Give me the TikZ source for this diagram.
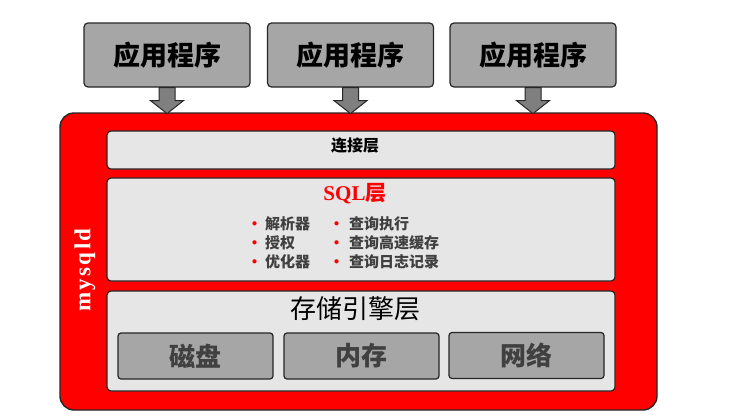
\documentclass[tikz,border=0pt]{standalone}
\usepackage{fontspec}
\setmainfont{Noto Sans CJK SC}
\newfontfamily\namefont[LetterSpace=10]{Liberation Serif}
\newfontfamily\latinserif{Liberation Serif}
\usepackage{xcolor}
\usepackage{tikz}
\usetikzlibrary{positioning}

\definecolor{appgray}{HTML}{A6A6A6}
\definecolor{layergray}{HTML}{E6E6E6}
\definecolor{arrgray}{HTML}{7F7F7F}
\definecolor{edge}{HTML}{262626}
\definecolor{txtgray}{HTML}{404040}
\definecolor{sysred}{HTML}{FF0000}

\begin{document}
\begin{tikzpicture}[
  x=1pt, y=-1pt,
  app/.style={draw=edge, fill=appgray, rounded corners=4pt, line width=1.2pt,
    minimum width=166pt, minimum height=64pt, inner sep=0pt,
    font=\fontsize{27}{30}\selectfont\bfseries},
  sysbox/.style={draw=edge, fill=sysred, rounded corners=14pt, line width=1.4pt,
    minimum width=597pt, minimum height=297pt},
  layer/.style={draw=edge, fill=layergray, rounded corners=4pt, line width=1.2pt,
    minimum width=508pt, inner sep=0pt},
  unit/.style={draw=edge, fill=appgray, rounded corners=3pt, line width=1.2pt,
    minimum width=155pt, minimum height=46pt, inner sep=0pt, text=txtgray,
    font=\fontsize{26}{28}\selectfont\bfseries},
  items/.style={anchor=west, align=left, inner sep=0pt, text=txtgray,
    font=\fontsize{15}{19}\selectfont\bfseries},
  arr/.style={draw=edge, fill=arrgray, line width=1pt, line join=miter}
]
\useasboundingbox (0,0) rectangle (750,418);

% applications on top
\node[app] (app1) at (167,55) {应用程序};
\node[app] (app2) at (350.5,55) {应用程序};
\node[app] (app3) at (533,55) {应用程序};

% mysqld server
\node[sysbox] (sys) at (358.5,261.5) {};
\node[rotate=90, text=white, font=\fontsize{23}{25}\selectfont\namefont\bfseries] (name) at (85,270) {mysqld};

\foreach \i in {1,2,3}
  \draw[arr] (app\i.south) ++(-8,0) -- ++(0,13) -- ++(-8.5,0) -- ++(16.5,13)
    -- ++(16.5,-13) -- ++(-8.5,0) -- ++(0,-13) -- cycle;

% layers
\node[layer, minimum height=38pt] (conn) at (361,150) {};
\node[font=\fontsize{16}{18}\selectfont\bfseries] (connlbl) at (355,146) {连接层};

\node[layer, minimum height=103pt] (sql) at (361,229.5) {};
\node[text=sysred, font=\fontsize{21}{23}\selectfont\bfseries] (sqllbl) at (355,194) {{\latinserif SQL}层};
\node[items] (col1) at (247,243) {\textcolor{sysred}{•}\hspace{3pt}解析器\\ \textcolor{sysred}{•}\hspace{3pt}授权\\ \textcolor{sysred}{•}\hspace{3pt}优化器};
\node[items] (col2) at (329,243) {\textcolor{sysred}{•}\hspace{5pt}查询执行\\ \textcolor{sysred}{•}\hspace{5pt}查询高速缓存\\ \textcolor{sysred}{•}\hspace{5pt}查询日志记录};

\node[layer, minimum height=100pt] (store) at (361,341) {};
\node[font=\fontsize{26}{28}\selectfont] (storelbl) at (355,309) {存储引擎层};
\node[unit] (disk) at (195.5,356) {磁盘};
\node[unit] (mem) at (361.5,356) {内存};
\node[unit] (net) at (526.5,355.5) {网络};
\end{tikzpicture}
\end{document}
